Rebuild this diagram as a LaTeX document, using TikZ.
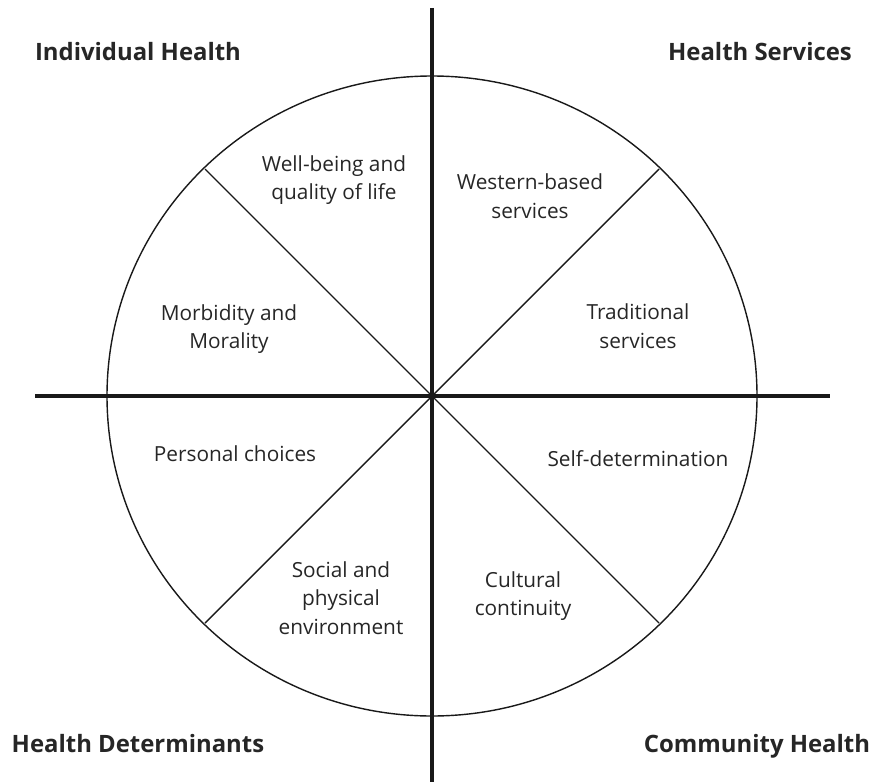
\documentclass[tikz,border=0pt]{standalone}
\usepackage{fontspec}
\setmainfont{Open Sans}
\usepackage{tikz}
\usetikzlibrary{positioning}

\begin{document}
\begin{tikzpicture}[
        x=0.025cm, y=-0.025cm,
        axis/.style={line width=2.9pt, draw=black!90},
        spoke/.style={line width=1pt, draw=black!90},
        quadrant/.style={font=\fontsize{17}{20}\selectfont\bfseries, text=black!85, inner sep=0pt, anchor=base},
        sector/.style={font=\fontsize{14.8}{20.3}\selectfont, text=black!85, align=center, inner sep=0pt}
    ]
    \useasboundingbox (0,0) rectangle (879,782);

    % Centre and rim points
    \coordinate (c) at (432,396);
    \coordinate (ne) at (659,169);
    \coordinate (nw) at (205,169);
    \coordinate (se) at (659,623);
    \coordinate (sw) at (205,623);
    \coordinate (top) at (432,8);
    \coordinate (bottom) at (432,782);
    \coordinate (left) at (35,396);
    \coordinate (right) at (830,396);

    % Circle and spokes
    \draw[spoke] (c) ellipse [x radius=325, y radius=320];
    \draw[spoke] (nw) -- (se);
    \draw[spoke] (sw) -- (ne);

    % Main axes
    \draw[axis] (top) -- (bottom);
    \draw[axis] (left) -- (right);

    % Quadrant titles
    \node[quadrant] (indiv) at (138,61) {Individual Health};
    \node[quadrant] (serv) at (760,61) {Health Services};
    \node[quadrant] (determ) at (138,752) {Health Determinants};
    \node[quadrant] (commun) at (757,752) {Community Health};

    % Sector labels
    \node[sector] (wellbeing) at (334,180) {Well-being and\\quality of life};
    \node[sector] (western) at (530,196) {Western-based\\services};
    \node[sector] (traditional) at (638,326) {Traditional\\services};
    \node[sector] (morbidity) at (229,329) {Morbidity and\\Morality};
    \node[sector] (choices) at (235,454) {Personal choices};
    \node[sector] (selfdet) at (638,459) {Self-determination};
    \node[sector] (social) at (341,598) {Social and\\physical\\environment};
    \node[sector] (cultural) at (523,596) {Cultural\\continuity};
\end{tikzpicture}
\end{document}
